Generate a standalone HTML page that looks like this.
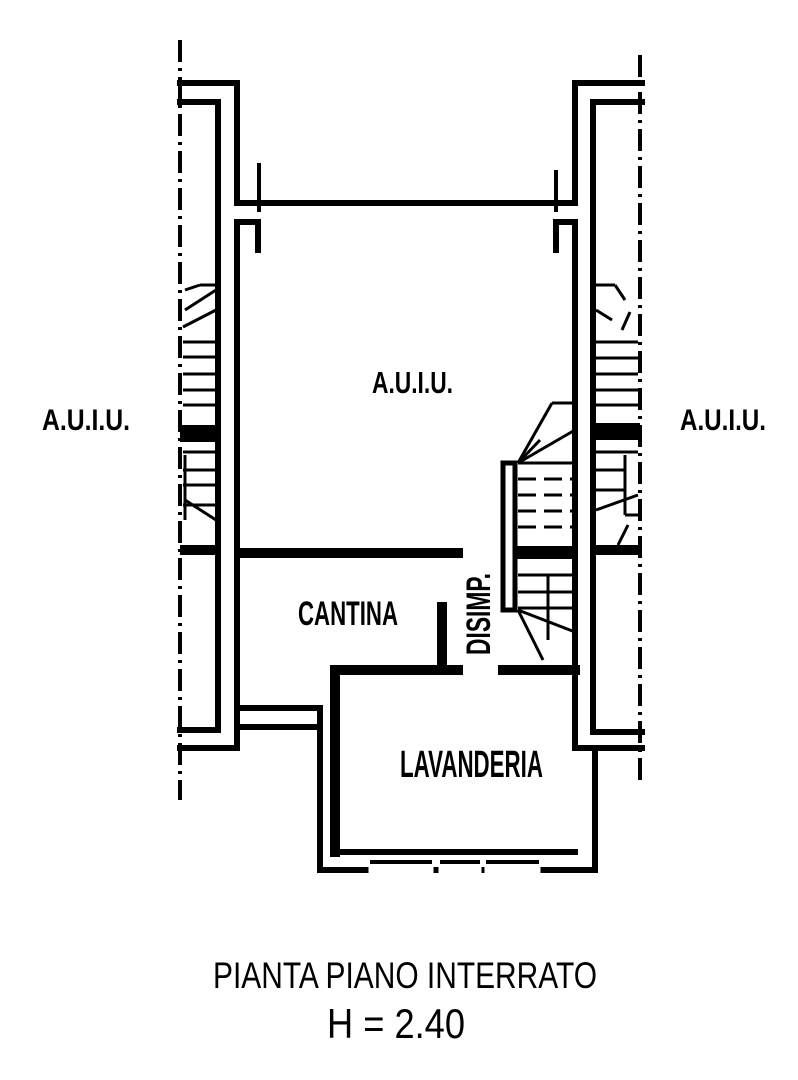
<!DOCTYPE html>
<html><head><meta charset="utf-8"><style>
html,body{margin:0;padding:0;background:#fff;}
svg{display:block}
text{font-family:"Liberation Sans Narrow","Liberation Sans",sans-serif;fill:#000;font-weight:bold}
</style></head><body>
<svg width="798" height="1080" viewBox="0 0 798 1080" xmlns="http://www.w3.org/2000/svg">
<g fill="none" stroke="#000" stroke-width="6" stroke-linecap="square" stroke-linejoin="miter">
<polyline points="180,83 237,83 237,203 575,203 575,83 642,83"/>
<polyline points="180,102 218,102 218,730 180,730"/>
<polyline points="642,102 593,102 593,732 642,732"/>
<polyline points="180,748 237,748 237,222 258,222"/>
<line x1="258" y1="222" x2="258" y2="250"/>
<polyline points="642,748 575,748 575,222 556,222"/>
<line x1="556" y1="222" x2="556" y2="250"/>
<line x1="259" y1="165" x2="259" y2="210" stroke-width="4"/>
<line x1="556" y1="172" x2="556" y2="210" stroke-width="4"/>
<line x1="237" y1="708" x2="320" y2="708"/>
<line x1="237" y1="727" x2="320" y2="727"/>
<polyline points="320,708 320,722 320,870 595,870 595,748"/>
<line x1="335" y1="852" x2="575" y2="852"/>
<polyline points="335,852 335,670 458,670" stroke-width="10"/>
<line x1="442" y1="607" x2="442" y2="670" stroke-width="10"/>
<line x1="503" y1="670" x2="575" y2="670" stroke-width="10"/>
<line x1="239" y1="553" x2="458" y2="553" stroke-width="10"/>
<g stroke="#fff" stroke-width="7">
<line x1="372" y1="870" x2="430" y2="870"/>
<line x1="442" y1="870" x2="478" y2="870"/>
<line x1="488" y1="870" x2="537" y2="870"/>
</g>
<g stroke-width="4">
<line x1="372" y1="862" x2="430" y2="862"/>
<line x1="442" y1="862" x2="478" y2="862"/>
<line x1="488" y1="862" x2="537" y2="862"/>
</g>
</g>
<g stroke="#000" stroke-width="4" fill="none">
<line x1="180" y1="40" x2="180" y2="800" stroke-dasharray="22,6,3,6"/>
<line x1="640" y1="55" x2="640" y2="780" stroke-dasharray="22,6,3,6"/>
</g>
<g stroke="#000" fill="none">
<rect x="503" y="463" width="12" height="147" stroke-width="5"/>
<g stroke-width="3">
<line x1="518" y1="463" x2="575" y2="463"/>
<line x1="518" y1="479" x2="575" y2="479" stroke-dasharray="18,8"/>
<line x1="518" y1="495" x2="575" y2="495" stroke-dasharray="18,8"/>
<line x1="518" y1="511" x2="575" y2="511" stroke-dasharray="18,8"/>
<line x1="518" y1="527" x2="575" y2="527" stroke-dasharray="18,8"/>
<line x1="518" y1="575" x2="575" y2="575"/>
<line x1="518" y1="592" x2="575" y2="592"/>
<line x1="518" y1="608" x2="575" y2="608"/>
<line x1="518" y1="463" x2="552" y2="403"/><line x1="552" y1="403" x2="575" y2="403"/>
<line x1="518" y1="463" x2="575" y2="430"/>
<line x1="518" y1="463" x2="540" y2="440"/>
<line x1="518" y1="610" x2="575" y2="632"/>
<line x1="518" y1="610" x2="543" y2="660"/>
<line x1="548" y1="575" x2="548" y2="640"/>
</g>
<rect x="516" y="546" width="59" height="13" fill="#000" stroke="none"/>
</g>
<g stroke="#000" fill="none" stroke-width="3">
<line x1="185" y1="290" x2="200" y2="285"/><line x1="200" y1="285" x2="216" y2="285"/>
<line x1="185" y1="310" x2="216" y2="290"/>
<line x1="183" y1="327" x2="216" y2="310"/>
<line x1="183" y1="342" x2="216" y2="342"/>
<line x1="183" y1="357" x2="216" y2="357"/>
<line x1="183" y1="374" x2="216" y2="374"/>
<line x1="183" y1="390" x2="216" y2="390"/>
<line x1="183" y1="405" x2="216" y2="405"/>
<line x1="183" y1="452" x2="216" y2="452"/>
<line x1="183" y1="470" x2="216" y2="470"/>
<line x1="183" y1="485" x2="216" y2="485"/>
<line x1="183" y1="505" x2="216" y2="505"/>
<line x1="185" y1="500" x2="216" y2="520"/>
<line x1="185" y1="455" x2="185" y2="520"/>
</g>
<rect x="180" y="425" width="38" height="17" fill="#000"/>
<rect x="180" y="545" width="38" height="10" fill="#000"/>
<g stroke="#000" fill="none" stroke-width="3">
<line x1="596" y1="285" x2="615" y2="285"/><line x1="615" y1="285" x2="625" y2="300"/>
<line x1="596" y1="310" x2="612" y2="320"/>
<line x1="630" y1="312" x2="622" y2="330"/>
<line x1="596" y1="342" x2="638" y2="342"/>
<line x1="596" y1="358" x2="638" y2="358"/>
<line x1="596" y1="374" x2="638" y2="374"/>
<line x1="596" y1="390" x2="638" y2="390"/>
<line x1="596" y1="405" x2="638" y2="405"/>
<line x1="596" y1="452" x2="638" y2="452"/>
<line x1="596" y1="470" x2="625" y2="470"/>
<line x1="596" y1="490" x2="625" y2="490"/>
<line x1="596" y1="510" x2="638" y2="495"/>
<line x1="625" y1="455" x2="625" y2="515"/>
<line x1="625" y1="515" x2="638" y2="515"/>
<line x1="628" y1="525" x2="618" y2="545"/>
</g>
<rect x="593" y="423" width="47" height="17" fill="#000"/>
<rect x="593" y="545" width="47" height="10" fill="#000"/>
<text x="372" y="393" font-size="31" textLength="81" lengthAdjust="spacingAndGlyphs">A.U.I.U.</text>
<text x="42" y="430" font-size="30" textLength="88" lengthAdjust="spacingAndGlyphs">A.U.I.U.</text>
<text x="680" y="430" font-size="30" textLength="86" lengthAdjust="spacingAndGlyphs">A.U.I.U.</text>
<text x="298" y="625" font-size="34" textLength="100" lengthAdjust="spacingAndGlyphs">CANTINA</text>
<text x="400" y="777" font-size="38" textLength="143" lengthAdjust="spacingAndGlyphs">LAVANDERIA</text>
<text transform="translate(490,655) rotate(-90)" font-size="34" textLength="82" lengthAdjust="spacingAndGlyphs">DISIMP.</text>
<text x="213" y="988" font-size="37" textLength="384" lengthAdjust="spacingAndGlyphs" style="font-weight:normal">PIANTA PIANO INTERRATO</text>
<text x="327" y="1038" font-size="42" textLength="138" lengthAdjust="spacingAndGlyphs" style="font-weight:normal">H = 2.40</text>
</svg>
</body></html>
